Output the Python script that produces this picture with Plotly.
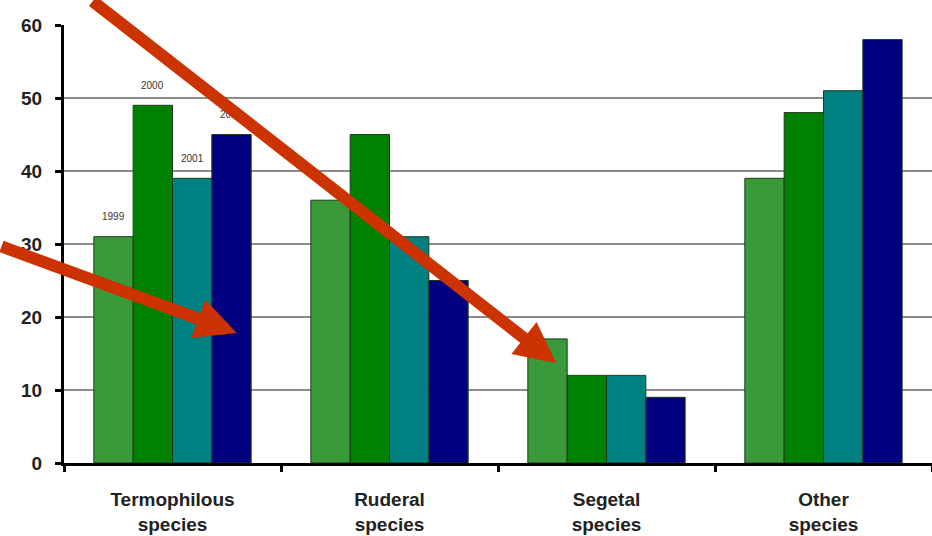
import plotly.graph_objects as go

categories = ["Termophilous<br>species", "Ruderal<br>species", "Segetal<br>species", "Other<br>species"]
series_names = ["1999", "2000", "2001", "2002"]
v1999 = [31, 36, 17, 39]
v2000 = [49, 45, 12, 48]
v2001 = [39, 31, 12, 51]
v2002 = [45, 25, 9, 58]
values = [v1999, v2000, v2001, v2002]
colors = ["#3a9a3a", "#008000", "#008080", "#000080"]
y_ticks = [0, 10, 20, 30, 40, 50, 60]

fig = go.Figure()
for name, vals, col in zip(series_names, values, colors):
    fig.add_trace(go.Bar(
        x=categories, y=vals, name=name,
        marker=dict(color=col, line=dict(color="#1e3a1e", width=1)),
    ))

# year labels above the first group's bars
bar_px = 870 / 4 * (1 - 0.275) / 4
for i, (name, vals) in enumerate(zip(series_names, values)):
    fig.add_annotation(
        x=categories[0], y=vals[0], xref="x", yref="y",
        text=name, showarrow=False,
        xshift=(i - 1.5) * bar_px, yshift=20,
        font=dict(size=10, color="#333333", family="Arial"),
    )

# red arrows
arrow_col = "#cc3300"
fig.add_annotation(
    x=0.567, y=0.228, xref="paper", yref="paper",
    ax=-465, ay=-378, showarrow=True,
    arrowhead=2, arrowsize=0.68, arrowwidth=12, arrowcolor=arrow_col, text="",
)
fig.add_annotation(
    x=0.199, y=0.297, xref="paper", yref="paper",
    ax=-250, ay=-87, showarrow=True,
    arrowhead=2, arrowsize=0.68, arrowwidth=12, arrowcolor=arrow_col, text="",
)

fig.update_layout(
    width=932, height=536,
    margin=dict(l=64, r=0, t=25, b=73, autoexpand=False),
    paper_bgcolor="white", plot_bgcolor="white",
    barmode="group", bargap=0.275, bargroupgap=0,
    showlegend=False,
    font=dict(family="Arial", color="#222222"),
)
fig.update_yaxes(
    range=[0, 60], tickvals=y_ticks,
    showgrid=True, gridcolor="#8c8c8c", gridwidth=2,
    showline=True, linecolor="black", linewidth=3,
    ticks="outside", ticklen=6, tickwidth=3, tickcolor="black",
    ticklabelstandoff=9,
    tickfont=dict(size=19, family="Arial", weight="bold", color="#222222"),
    zeroline=False, automargin=False,
)
fig.update_xaxes(
    showline=True, linecolor="black", linewidth=3,
    ticks="outside", ticklen=6, tickwidth=3, tickcolor="black",
    tickson="boundaries", ticklabelstandoff=17,
    tickfont=dict(size=19, family="Arial", weight="bold", color="#222222"),
    automargin=False,
)

fig.write_html(
    "out.html",
    config={"displayModeBar": False},
    post_script="document.body.style.margin='0';document.body.style.overflow='hidden';",
)
